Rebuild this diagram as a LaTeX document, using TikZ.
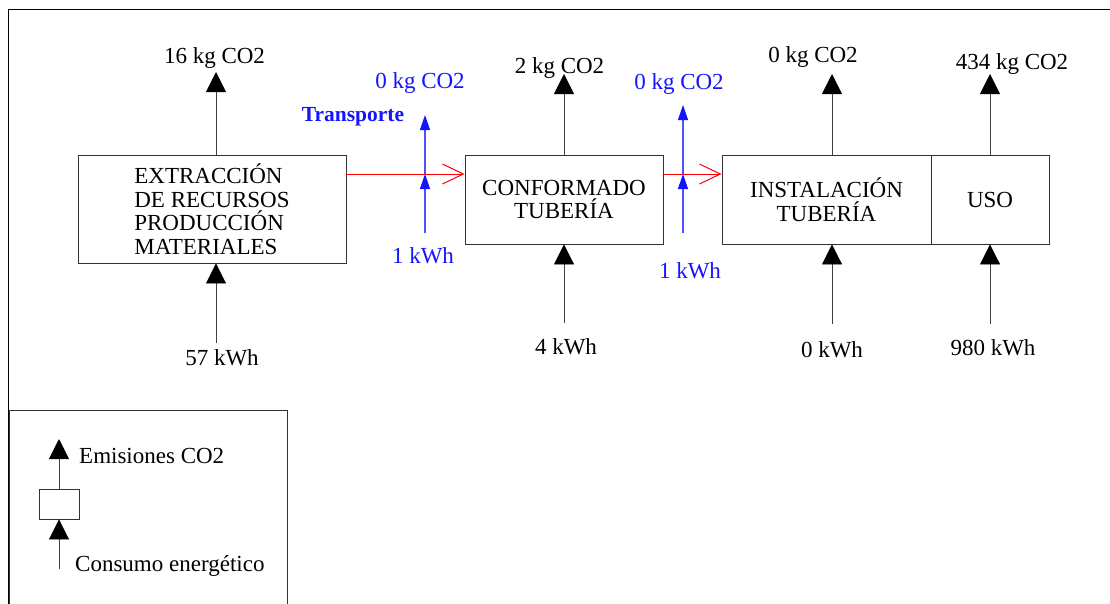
\documentclass[tikz,border=0pt]{standalone}
\usepackage{fontspec}
\setmainfont{Liberation Serif}
\usepackage{tikz}
\usetikzlibrary{calc}
\usetikzlibrary{arrows.meta}

\definecolor{azul}{RGB}{20,20,255}
\definecolor{azulclaro}{RGB}{80,80,255}

\begin{document}
\begin{tikzpicture}[x=1pt, y=-1pt, font=\fontsize{23}{23.5}\selectfont,
		proc/.style={draw=black!80, line width=0.9pt, inner sep=0pt, align=center},
		emis/.style={draw=black!75, line width=0.9pt, -{Triangle[width=20pt,length=20pt,black]}},
		flujo/.style={draw=red, line width=1pt, -{Straight Barb[width=20pt,length=21pt,line width=1pt]}},
		transp/.style={draw=azulclaro, line width=1.2pt, -{Triangle[width=10pt,length=15pt,azul]}},
		dato/.style={anchor=base, inner sep=0pt},
		datoazul/.style={dato, text=azul}]

			\useasboundingbox (0,0) rectangle (1110,603);
			\draw[line width=0.9pt] (8,620)--(8,9)--(1120,9);

			\node[proc, minimum width=268pt, minimum height=108pt, align=left] (ext) at (212,209)
				{EXTRACCIÓN\\DE RECURSOS\\PRODUCCIÓN\\MATERIALES};
			\node[proc, minimum width=198pt, minimum height=89pt] (conf) at (564,199.5) {CONFORMADO\\TUBERÍA};
			\node[proc, minimum width=209pt, minimum height=89pt] (inst) at (826.5,199.5) {INSTALACIÓN\\TUBERÍA};
			\node[proc, minimum width=118pt, minimum height=89pt] (uso) at (990,199.5) {USO};

			\node[dato] (co2ext) at (214.5,63) {16 kg CO2};
			\node[dato] (co2conf) at (559.5,73) {2 kg CO2};
			\node[dato] (co2inst) at (813,62) {0 kg CO2};
			\node[dato] (co2uso) at (1012,69) {434 kg CO2};
			\node[dato] (kwhext) at (222,365) {57 kWh};
			\node[dato] (kwhconf) at (566,354) {4 kWh};
			\node[dato] (kwhinst) at (832,357) {0 kWh};
			\node[dato] (kwhuso) at (993,355) {980 kWh};

			\coordinate (e1) at (216,72);
			\coordinate (e2) at (564,74);
			\coordinate (e3) at (832,74);
			\coordinate (e4) at (990,74);
			\coordinate (k1) at (216,343);
			\coordinate (k2) at (564,323);
			\coordinate (k3) at (832,324);
			\coordinate (k4) at (990,324);

			\draw[emis] (e1 |- ext.north)--(e1);
			\draw[emis] (e2 |- conf.north)--(e2);
			\draw[emis] (e3 |- inst.north)--(e3);
			\draw[emis] (e4 |- uso.north)--(e4);
			\draw[emis] (k1)--(k1 |- ext.south);
			\draw[emis] (k2)--(k2 |- conf.south);
			\draw[emis] (k3)--(k3 |- inst.south);
			\draw[emis] (k4)--(k4 |- uso.south);

			\coordinate (t1) at (425,174);
			\coordinate (t2) at (683,174);
			\draw[flujo] (t1 -| ext.east)--(t1 -| conf.west);
			\draw[flujo] (t2 -| conf.east)--(t2 -| inst.west);

			\node[datoazul] (co2t1) at (420,88) {0 kg CO2};
			\node[datoazul, font=\fontsize{21.5}{24}\selectfont\bfseries] (transporte) at (353,121) {Transporte};
			\node[datoazul] (kwht1) at (423,263) {1 kWh};
			\node[datoazul] (co2t2) at (679,89) {0 kg CO2};
			\node[datoazul] (kwht2) at (690,278) {1 kWh};

			\coordinate (b1) at (425,233);
			\coordinate (a1) at (425,115);
			\coordinate (b2) at (683,233);
			\coordinate (a2) at (683,105);
			\draw[transp] (b1)--(t1);
			\draw[transp] (t1)--(a1);
			\draw[transp] (b2)--(t2);
			\draw[transp] (t2)--(a2);

			\draw[black!80, line width=0.9pt] (9,410) rectangle (287,620);
			\node[proc, minimum width=40pt, minimum height=30pt] (leyenda) at (59,504) {};
			\coordinate (le) at (59,439);
			\coordinate (lk) at (59,569);
			\draw[emis] (leyenda.north)--(le);
			\draw[emis] (lk)--(leyenda.south);
			\node[dato, anchor=base west] (emisiones) at (79,463) {Emisiones CO2};
			\node[dato, anchor=base west] (consumo) at (75,571) {Consumo energético};
		\end{tikzpicture}
\end{document}
